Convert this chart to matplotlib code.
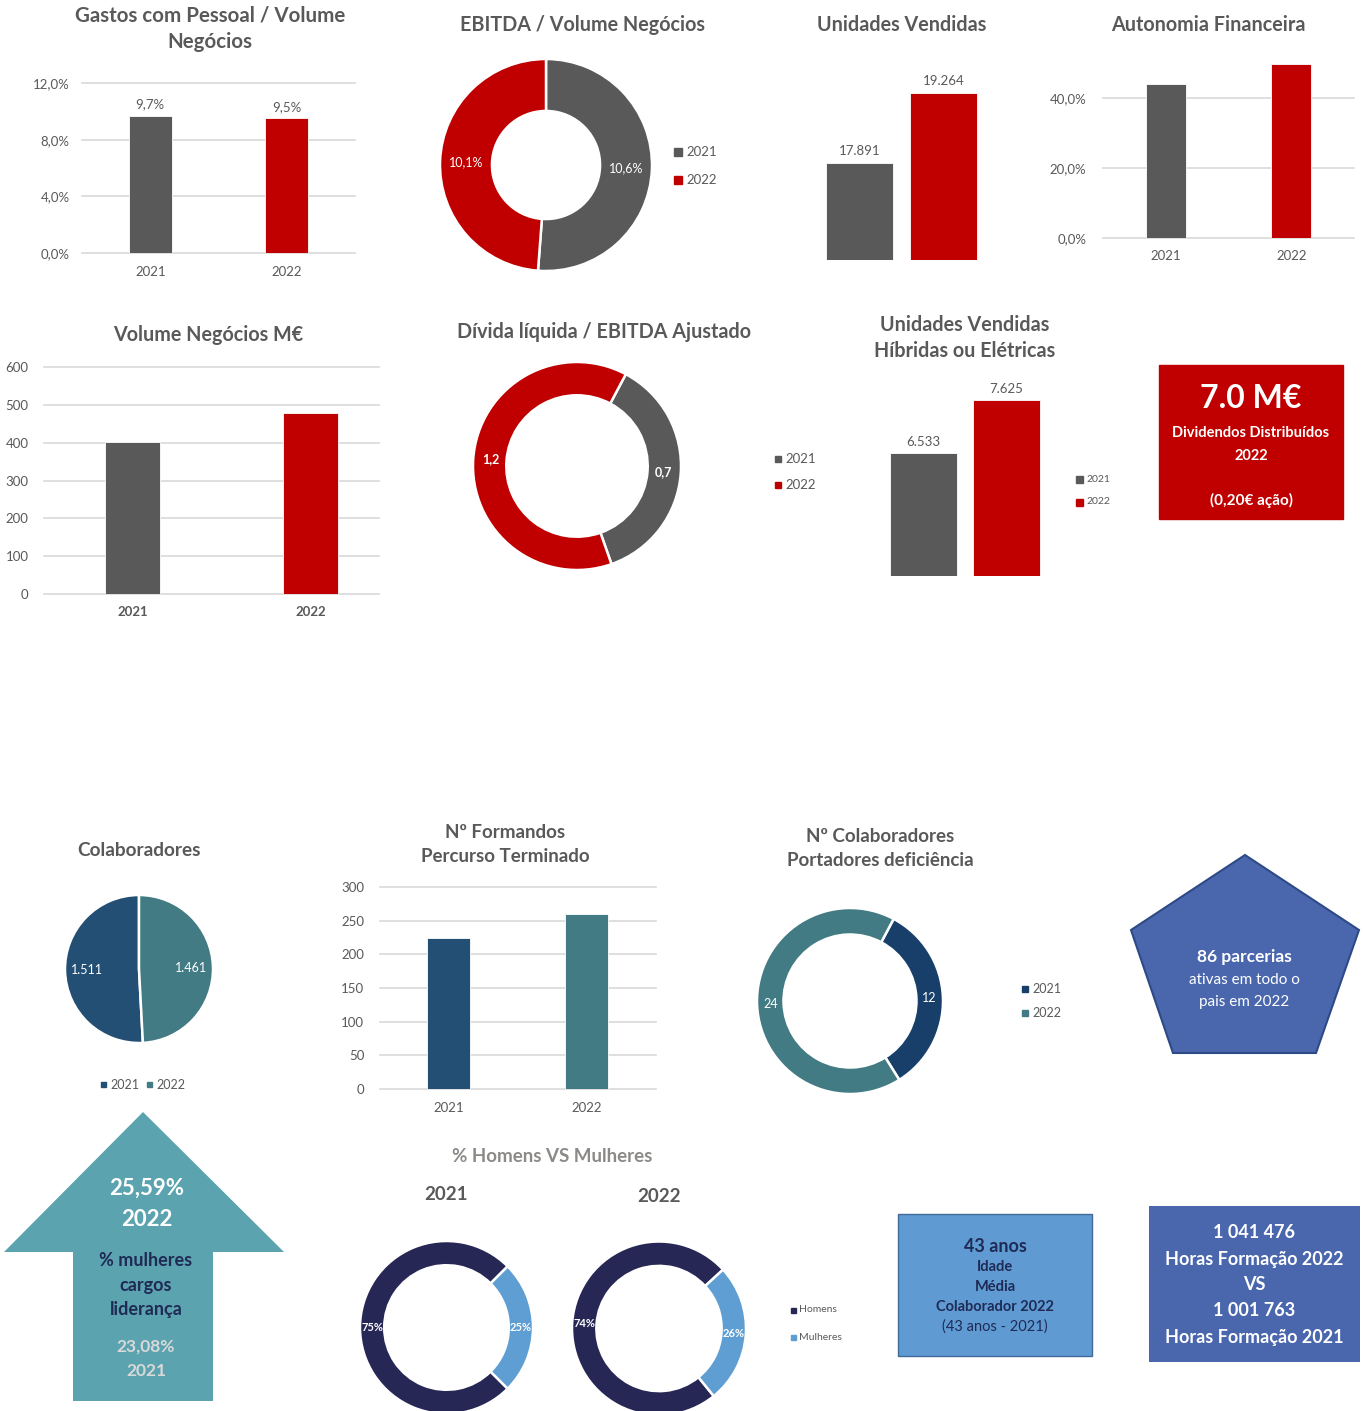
import matplotlib
matplotlib.use('Agg')
import matplotlib.pyplot as plt
from matplotlib.patches import Polygon, Rectangle
import numpy as np

# ---------------- data ----------------
years = ['2021', '2022']
gastos_pct = [9.7, 9.5]
ebitda_pct = [10.6, 10.1]
unidades = [17891, 19264]
autonomia_pct = [44.0, 49.7]
volume_meur = [402, 479]
divida_ebitda = [0.7, 1.2]
unidades_hib = [6533, 7625]
colaboradores = [1511, 1461]
formandos = [225, 260]
deficiencia = [12, 24]
genero_labels = ['Homens', 'Mulheres']
genero_2021 = [75, 25]
genero_2022 = [74, 26]

gastos_ticks = [0, 4, 8, 12]
autonomia_ticks = [0, 20, 40]
volume_ticks = [0, 100, 200, 300, 400, 500, 600]
formandos_ticks = [0, 50, 100, 150, 200, 250, 300]

# ---------------- style ----------------
plt.rcParams['font.family'] = ['Lato', 'DejaVu Sans']
W, H = 1365, 1411
GRAY = '#595959'
RED = '#C00000'
TXT = '#595959'
GRID = '#D9D9D9'
NAVY = '#234F75'
TEAL = '#427B83'
NAVY2 = '#173F69'
HOM = '#262754'
MUL = '#5F9ED3'
DARKTXT = '#1F2A55'

fig = plt.figure(figsize=(W / 100, H / 100), dpi=100)


def axpx(x0, y0, x1, y1):
    ax = fig.add_axes([x0 / W, 1 - y1 / H, (x1 - x0) / W, (y1 - y0) / H])
    ax.patch.set_visible(False)
    return ax


def pct1(v):
    return f"{v:.1f}".replace('.', ',') + '%'


def thousands(v):
    return f"{int(round(v)):,}".replace(',', '.')


def bar_panel(box, xlim, ylim, vals, colors, width, yticks=None, yfmt=str,
              show_x=True, bold_x=False, label_fmt=None, ypad=9, xpad=8,
              fs=9.5, label_pad=4):
    ax = axpx(*box)
    x = np.arange(len(vals))
    bars = ax.bar(x, vals, width=width, color=colors, zorder=3,
                  edgecolor='white', linewidth=0.6)
    ax.set_xlim(*xlim)
    ax.set_ylim(*ylim)
    for s in ax.spines.values():
        s.set_visible(False)
    if yticks is not None:
        ax.set_yticks(yticks)
        ax.set_yticklabels([yfmt(t) for t in yticks])
        ax.yaxis.grid(True, color=GRID, lw=1.2, zorder=0)
        for gl in ax.yaxis.get_gridlines():
            gl.set_clip_on(False)
    else:
        ax.set_yticks([])
    if show_x:
        ax.set_xticks(x)
        ax.set_xticklabels(years, fontweight='bold' if bold_x else 'normal')
    else:
        ax.set_xticks([])
    ax.tick_params(axis='both', length=0, colors=TXT, labelsize=fs)
    ax.tick_params(axis='y', pad=ypad)
    ax.tick_params(axis='x', pad=xpad)
    if label_fmt is not None:
        ax.bar_label(bars, labels=[label_fmt(v) for v in vals], padding=label_pad,
                     color=TXT, fontsize=9.5)
    return ax


def donut(cx, cy, r, vals, colors, start, width, labels, label_r,
          counterclock=False, fs=9, bold=False):
    ax = axpx(cx - r, cy - r, cx + r, cy + r)
    wp = dict(edgecolor='white', linewidth=1.8)
    if width is not None:
        wp['width'] = width
    wedges, _ = ax.pie(vals, colors=colors, startangle=start,
                       counterclock=counterclock, radius=1, wedgeprops=wp)
    ax.set_xlim(-1, 1)
    ax.set_ylim(-1, 1)
    for w in wedges:
        w.set_clip_on(False)
    for w, lab in zip(wedges, labels):
        ang = np.deg2rad((w.theta1 + w.theta2) / 2)
        ax.text(label_r * np.cos(ang), label_r * np.sin(ang), lab,
                ha='center', va='center', color='white', fontsize=fs,
                fontweight='bold' if bold else 'normal')
    return ax


# ---------- Gastos com Pessoal / Volume Negócios ----------
bar_panel((82, 83, 355, 253), (-0.5, 1.5), (0, 12), gastos_pct, [GRAY, RED], 0.315,
          yticks=gastos_ticks, yfmt=pct1, label_fmt=pct1, ypad=9, xpad=9)

# ---------- EBITDA / Volume Negócios ----------
donut(546, 165, 106, ebitda_pct, [GRAY, RED], 90, 0.49,
      [pct1(v) for v in ebitda_pct], 0.755)

# ---------- Unidades Vendidas ----------
bar_panel((817.5, 60, 985.5, 260), (-0.5, 1.5), (16000, 19900), unidades, [GRAY, RED], 0.8,
          show_x=False, label_fmt=thousands)

# ---------- Autonomia Financeira ----------
bar_panel((1103, 56, 1354, 238), (-0.5, 1.5), (0, 52), autonomia_pct, [GRAY, RED], 0.32,
          yticks=autonomia_ticks, yfmt=pct1, ypad=12, xpad=9)

# ---------- Volume Negócios M€ ----------
bar_panel((44, 367, 379, 594), (-0.497, 1.385), (0, 600), volume_meur, [GRAY, RED], 0.31,
          yticks=volume_ticks, yfmt=str, bold_x=True, ypad=11, xpad=9)

# ---------- Dívida líquida / EBITDA Ajustado ----------
donut(577, 466, 104, divida_ebitda, [GRAY, RED], 62, 0.32,
      [f"{v:.1f}".replace('.', ',') for v in divida_ebitda], 0.835, bold=True)

# ---------- Unidades Vendidas Híbridas ou Elétricas ----------
bar_panel((882, 370, 1048, 576), (-0.5, 1.5), (4000, 8250), unidades_hib, [GRAY, RED], 0.807,
          show_x=False, label_fmt=thousands)

# ---------- Colaboradores (pie) ----------
donut(139, 969, 74, colaboradores, [NAVY, TEAL], 90, None,
      [thousands(v) for v in colaboradores], 0.7, counterclock=True, fs=9)

# ---------- Nº Formandos ----------
bar_panel((379.5, 887, 655.5, 1089), (-0.5, 1.5), (0, 300), formandos, [NAVY, TEAL], 0.31,
          yticks=formandos_ticks, yfmt=str, ypad=11, xpad=9)

# ---------- Nº Colaboradores portadores deficiência ----------
donut(850, 1001, 93, deficiencia, [NAVY2, TEAL], 62, 0.285,
      [str(v) for v in deficiencia], 0.857)

# ---------- % Homens VS Mulheres ----------
donut(446.5, 1327.5, 86.5, genero_2021, [HOM, MUL], -45, 0.28,
      [f"{v}%" for v in genero_2021], 0.86, fs=8, bold=True)
donut(659, 1328.5, 87, genero_2022, [HOM, MUL], -51, 0.28,
      [f"{v}%" for v in genero_2022], 0.86, fs=8, bold=True)

# ---------------- overlay for titles, legends, shapes ----------------
ov = fig.add_axes([0, 0, 1, 1])
ov.set_xlim(0, W)
ov.set_ylim(H, 0)
ov.axis('off')
ov.patch.set_visible(False)


def title(x, y, s, fs=14.2, color=TXT, weight='bold'):
    ov.text(x, y, s, ha='center', va='center', fontsize=fs, color=color,
            fontweight=weight)


def legend(x, ys, labels, colors, fs=9, sq=8):
    for y, lab, c in zip(ys, labels, colors):
        ov.add_patch(Rectangle((x - sq / 2, y - sq / 2), sq, sq, color=c))
        ov.text(x + sq / 2 + 4, y, lab, ha='left', va='center', fontsize=fs, color=TXT)


title(210, 16, 'Gastos com Pessoal / Volume', fs=14.8)
title(210, 42, 'Negócios', fs=14.8)
title(582, 25, 'EBITDA / Volume Negócios')
title(902, 25, 'Unidades Vendidas')
title(1208, 25, 'Autonomia Financeira')
title(208, 335, 'Volume Negócios M€')
title(604, 332, 'Dívida líquida / EBITDA Ajustado')
title(965, 325, 'Unidades Vendidas')
title(965, 351, 'Híbridas ou Elétricas')
title(139, 851, 'Colaboradores', fs=13.7)
title(505, 832, 'Nº Formandos', fs=13.5)
title(505, 857, 'Percurso Terminado', fs=13.5)
title(880, 836, 'Nº Colaboradores', fs=13.5)
title(880, 861, 'Portadores deficiência', fs=13.5)
title(552, 1156, '% Homens VS Mulheres', fs=13.5, color='#8C8A87')
title(446, 1195, years[0], fs=13.5)
title(659, 1196, years[1], fs=13.5)

legend(678, [152, 180], years, [GRAY, RED], fs=9.5, sq=8)
legend(778, [459, 485], years, [GRAY, RED], fs=9.5, sq=6)
legend(1079, [479, 502], years, [GRAY, RED], fs=7.5, sq=7)
legend(1025, [989, 1013], years, [NAVY2, TEAL], fs=9, sq=6)
legend(793, [1310, 1337], genero_labels, [HOM, MUL], fs=7.5, sq=5)
# Colaboradores horizontal legend
ov.add_patch(Rectangle((101, 1082), 5, 5, color=NAVY))
ov.text(110, 1085, years[0], ha='left', va='center', fontsize=9, color=TXT)
ov.add_patch(Rectangle((147, 1082), 5, 5, color=TEAL))
ov.text(156, 1085, years[1], ha='left', va='center', fontsize=9, color=TXT)

# Red dividend box
ov.add_patch(Rectangle((1159, 365), 184, 154, color=RED))
ov.text(1251, 399, '7.0 M€', ha='center', va='center', fontsize=23, color='white', fontweight='bold')
ov.text(1251, 433, 'Dividendos Distribuídos', ha='center', va='center', fontsize=10.5, color='white', fontweight='bold')
ov.text(1251, 456, '2022', ha='center', va='center', fontsize=10.5, color='white', fontweight='bold')
ov.text(1251, 500, '(0,20€ ação)', ha='center', va='center', fontsize=11, color='white', fontweight='bold')

# Pentagon
ov.add_patch(Polygon([(1245, 855), (1359, 930), (1316, 1053), (1173, 1053), (1131, 930)],
                     closed=True, facecolor='#4A67AE', edgecolor='#2E4A86', lw=1.5))
ov.text(1244, 957, '86 parcerias', ha='center', va='center', fontsize=12.5, color='white', fontweight='bold')
ov.text(1244, 980, 'ativas em todo o', ha='center', va='center', fontsize=11, color='white')
ov.text(1244, 1002, 'pais em 2022', ha='center', va='center', fontsize=11, color='white')

# Arrow
ov.add_patch(Polygon([(143, 1112), (284, 1252), (213, 1252), (213, 1401), (73, 1401), (73, 1252), (4, 1252)],
                     closed=True, facecolor='#5BA3AF', edgecolor='none'))
ov.text(147, 1188, '25,59%', ha='center', va='center', fontsize=16, color='white', fontweight='bold')
ov.text(147, 1219, '2022', ha='center', va='center', fontsize=16, color='white', fontweight='bold')
ov.text(146, 1260, '% mulheres', ha='center', va='center', fontsize=13, color=DARKTXT, fontweight='bold')
ov.text(146, 1285, 'cargos', ha='center', va='center', fontsize=13, color=DARKTXT, fontweight='bold')
ov.text(146, 1310, 'liderança', ha='center', va='center', fontsize=13, color=DARKTXT, fontweight='bold')
ov.text(146, 1347, '23,08%', ha='center', va='center', fontsize=12.5, color='#D9D9D9', fontweight='bold')
ov.text(146, 1371, '2021', ha='center', va='center', fontsize=12.5, color='#D9D9D9', fontweight='bold')

# Idade box
ov.add_patch(Rectangle((898, 1214), 194, 142, facecolor='#5F9BD2', edgecolor='#41699A', lw=1))
ov.text(995, 1246, '43 anos', ha='center', va='center', fontsize=13, color=DARKTXT, fontweight='bold')
ov.text(995, 1267, 'Idade', ha='center', va='center', fontsize=10.5, color=DARKTXT, fontweight='bold')
ov.text(995, 1287, 'Média', ha='center', va='center', fontsize=10.5, color=DARKTXT, fontweight='bold')
ov.text(995, 1307, 'Colaborador 2022', ha='center', va='center', fontsize=10.5, color=DARKTXT, fontweight='bold')
ov.text(995, 1327, '(43 anos - 2021)', ha='center', va='center', fontsize=10.5, color=DARKTXT)

# Horas formação box
ov.add_patch(Rectangle((1149, 1206), 211, 156, facecolor='#4A67AE', edgecolor='none'))
for y, s in zip([1233, 1259, 1285, 1311, 1337],
                ['1 041 476', 'Horas Formação 2022', 'VS', '1 001 763', 'Horas Formação 2021']):
    ov.text(1254, y, s, ha='center', va='center', fontsize=13, color='white', fontweight='bold')

fig.savefig('out.png', dpi=100, facecolor='white')
